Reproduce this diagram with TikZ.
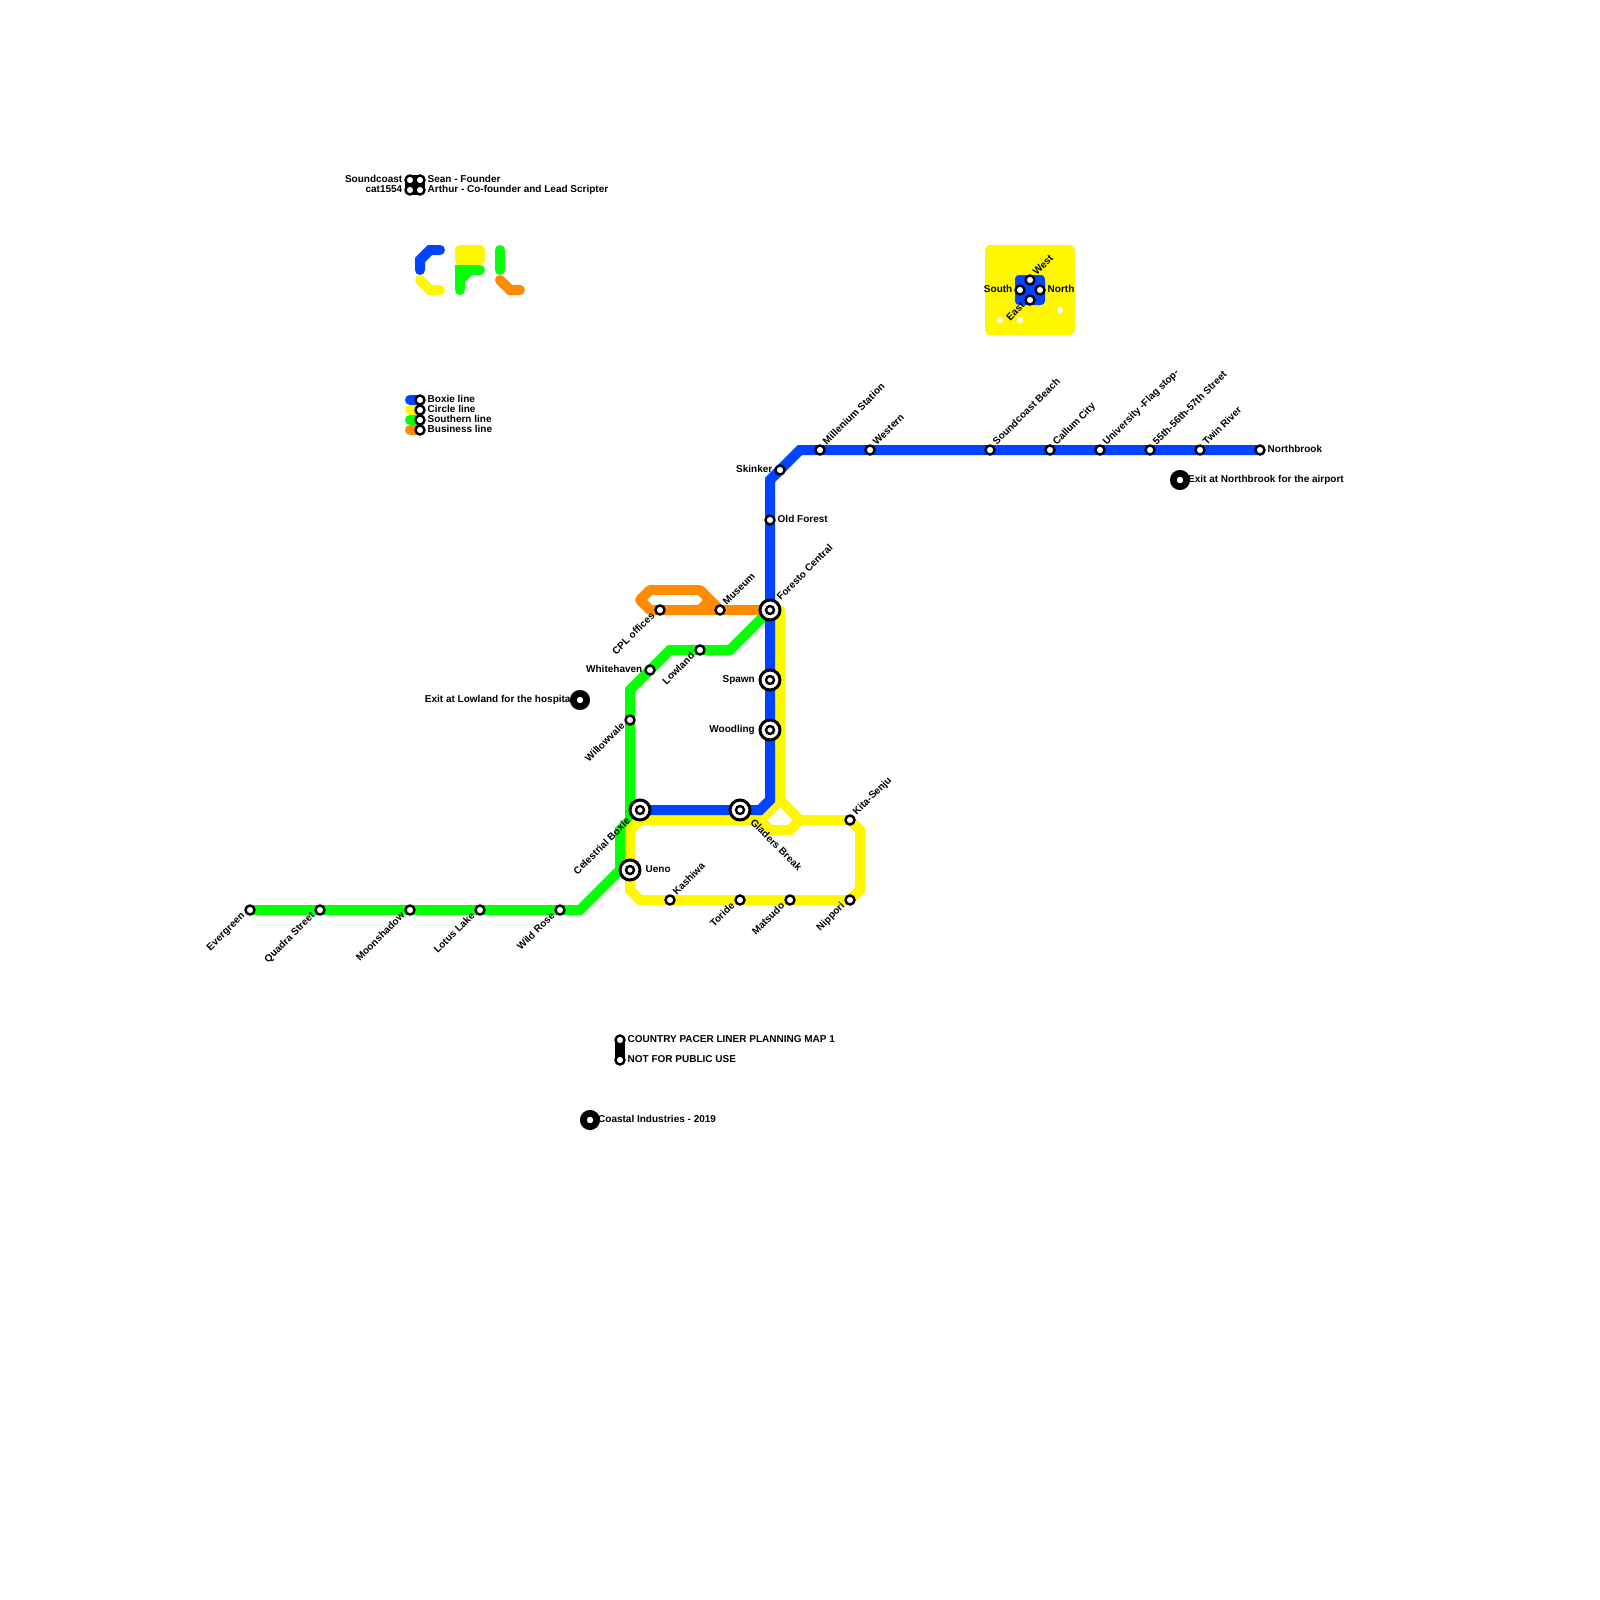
\documentclass[tikz,border=0pt]{standalone}
\usepackage{fontspec}
\setmainfont{Liberation Sans}
\usetikzlibrary{backgrounds}

\definecolor{boxieblue}{RGB}{0,68,255}
\definecolor{circleyellow}{RGB}{255,247,0}
\definecolor{southerngreen}{RGB}{8,255,8}
\definecolor{businessorange}{RGB}{255,140,0}

\tikzset{
  railline/.style={line width=10pt,line cap=round,line join=miter,miter limit=4},
  station/.style={circle,draw=black,fill=white,line width=2.4pt,minimum size=9pt,inner sep=0pt},
  hubring/.style={circle,draw=black,fill=white,line width=3pt,minimum size=20pt,inner sep=0pt},
  hubcore/.style={circle,draw=black,fill=white,line width=2.4pt,minimum size=8pt,inner sep=0pt},
  bigdot/.style={circle,draw=black,fill=white,line width=6.7pt,minimum size=13.3pt,inner sep=0pt},
  whitedot/.style={circle,fill=white,minimum size=6pt,inner sep=0pt},
  tag/.style={font=\bfseries\fontsize{10}{12}\selectfont,inner sep=0pt,text=black,text height=7.2pt,text depth=2pt},
  tagne/.style={tag,rotate=45,anchor=west},
  tagsw/.style={tag,rotate=45,anchor=east},
  tage/.style={tag,anchor=west},
  tagw/.style={tag,anchor=east}
}

\begin{document}
\begin{tikzpicture}[x=1pt,y=-1pt]

    \useasboundingbox (0,0) rectangle (1600,1600);

    % Key square
    \node[fill=circleyellow,rounded corners=5pt,minimum size=90pt,inner sep=0pt] (keybox) at (1030,290) {};
    \node[fill=boxieblue,rounded corners=4pt,minimum size=30pt,inner sep=0pt] (keycentre) at (1030,290) {};
    \node[whitedot] (dota) at (1000,320) {};
    \node[whitedot] (dotb) at (1020,320) {};
    \node[whitedot] (dotc) at (1060,310) {};

    % Interchanges
    \foreach \name/\px/\py in {foresto/770/610,spawn/770/680,woodling/770/730,celestrial/640/810,gladers/740/810,ueno/630/870}
    {
      \node[hubring] (\name ring) at (\px,\py) {};
      \node[hubcore] (\name) at (\px,\py) {};
    }

    % Stations
    \foreach \name/\px/\py in {northbrook/1260/450,twin/1200/450,fiftyfive/1150/450,university/1100/450,callum/1050/450,beach/990/450,western/870/450,
      millenium/820/450,skinker/780/470,oldforest/770/520,
      museum/720/610,cploffices/660/610,
      lowland/700/650,whitehaven/650/670,willowvale/630/720,
      wildrose/560/910,lotus/480/910,moonshadow/410/910,quadra/320/910,evergreen/250/910,
      kita/850/820,nippori/850/900,matsudo/790/900,toride/740/900,kashiwa/670/900,
      west/1030/280,south/1020/290,north/1040/290,east/1030/300,
      soundcoast/410/180,sean/420/180,cat/410/190,arthur/420/190,
      boxiekey/420/400,circlekey/420/410,southernkey/420/420,businesskey/420/430,
      planninga/620/1040,planningb/620/1060}
    \node[station] (\name) at (\px,\py) {};

    % Large dots
    \node[bigdot] (hospital) at (580,700) {};
    \node[bigdot] (airport) at (1180,480) {};
    \node[bigdot] (coastal) at (590,1120) {};

    % Bends
    \coordinate (boxiea) at (760,810);
    \coordinate (boxieb) at (770,800);
    \coordinate (boxiec) at (770,480);
    \coordinate (boxied) at (800,450);
    \coordinate (circlea) at (780,800);
    \coordinate (circleb) at (800,820);
    \coordinate (circlec) at (860,830);
    \coordinate (circled) at (860,890);
    \coordinate (circlee) at (640,900);
    \coordinate (circlef) at (630,890);
    \coordinate (circleg) at (630,830);
    \coordinate (circleh) at (640,820);
    \coordinate (circlei) at (760,820);
    \coordinate (circlej) at (770,830);
    \coordinate (circlek) at (790,830);
    \coordinate (circletop) at (780,610);
    \coordinate (southa) at (580,910);
    \coordinate (southb) at (620,870);
    \coordinate (southc) at (620,830);
    \coordinate (southd) at (630,820);
    \coordinate (southe) at (630,690);
    \coordinate (southf) at (670,650);
    \coordinate (southg) at (730,650);
    \coordinate (busa) at (650,610);
    \coordinate (busb) at (640,600);
    \coordinate (busc) at (650,590);
    \coordinate (busd) at (700,590);
    \coordinate (buse) at (710,600);
    \coordinate (busf) at (700,610);

    \begin{scope}[on background layer]
      % Logo
      \draw[railline,boxieblue] (440,250) -- (430,250) -- (420,260) -- (420,270);
      \draw[railline,circleyellow] (420,280) -- (430,290) -- (440,290);
      \draw[railline,circleyellow,line join=round] (460,250) -- (480,250) -- (480,260) -- (460,260) -- cycle;
      \draw[railline,southerngreen] (480,270) -- (460,270) -- (460,290);
      \draw[railline,southerngreen] (470,270) -- (460,280);
      \draw[railline,southerngreen] (500,250) -- (500,270);
      \draw[railline,businessorange] (500,280) -- (510,290) -- (520,290);

      % Legend
      \draw[railline,boxieblue] (410,400) -- (boxiekey.center);
      \draw[railline,circleyellow] (410,410) -- (circlekey.center);
      \draw[railline,southerngreen] (410,420) -- (southernkey.center);
      \draw[railline,businessorange] (410,430) -- (businesskey.center);

      % Black links
      \draw[railline,black,line join=round] (soundcoast.center) -- (sean.center) -- (arthur.center) -- (cat.center) -- cycle;
      \draw[railline,black] (planninga.center) -- (planningb.center);

      % Southern line
      \draw[railline,southerngreen] (evergreen.center) -- (southa) -- (southb) -- (southc) -- (southd) -- (southe) -- (southf) -- (southg) -- (foresto.center);

      % Circle line
      \draw[railline,circleyellow] (circlei) -- (circleh) -- (circleg) -- (circlef) -- (circlee) -- (nippori.center) -- (circled) -- (circlec) -- (kita.center) -- (circleb) -- (circlea) -- (circletop);
      \draw[railline,circleyellow] (circlea) -- (circlei) -- (circlej) -- (circlek) -- (circleb);

      % Boxie line
      \draw[railline,boxieblue] (celestrial.center) -- (boxiea) -- (boxieb) -- (boxiec) -- (boxied) -- (northbrook.center);

      % Business line
      \draw[railline,businessorange,line join=round] (foresto.center) -- (busa) -- (busb) -- (busc) -- (busd) -- (museum.center);
      \draw[railline,businessorange] (buse) -- (busf);
    \end{scope}

    % Labels up and right
    \foreach \name/\txt in {millenium/Millenium Station,western/Western,beach/Soundcoast Beach,callum/Callum City,university/University -Flag stop-,
      fiftyfive/55th-56th-57th Street,twin/Twin River,museum/Museum,kita/Kita-Senju,kashiwa/Kashiwa,west/West}
    \node[tagne] (\name text) at ([shift={(5,-6)}]\name.center) {\txt};
    \node[tagne] (forestotext) at ([shift={(9,-11)}]foresto.center) {Foresto Central};

    % Labels down and left
    \foreach \name/\txt in {cploffices/CPL offices,lowland/Lowland,willowvale/Willowvale,toride/Toride,matsudo/Matsudo,nippori/Nippori,
      evergreen/Evergreen,quadra/Quadra Street,moonshadow/Moonshadow,lotus/Lotus Lake,wildrose/Wild Rose,east/East}
    \node[tagsw] (\name text) at ([shift={(-6.5,4.5)}]\name.center) {\txt};
    \node[tagsw] (celestrialtext) at ([shift={(-11,10)}]celestrial.center) {Celestrial Boxie};
    \node[tag,rotate=-45,anchor=west] (gladerstext) at ([shift={(11.5,11.5)}]gladers.center) {Gladers Break};

    % Labels to the right
    \foreach \name/\txt in {northbrook/Northbrook,oldforest/Old Forest,north/North,sean/Sean - Founder,arthur/Arthur - Co-founder and Lead Scripter,
      boxiekey/Boxie line,circlekey/Circle line,southernkey/Southern line,businesskey/Business line,
      planninga/COUNTRY PACER LINER PLANNING MAP 1,planningb/NOT FOR PUBLIC USE}
    \node[tage] (\name text) at ([shift={(7.5,0)}]\name.center) {\txt};
    \node[tage] (uenotext) at ([shift={(15.5,0)}]ueno.center) {Ueno};
    \node[tage] (airporttext) at ([shift={(8,0)}]airport.center) {Exit at Northbrook for the airport};
    \node[tage] (coastaltext) at ([shift={(8,0)}]coastal.center) {Coastal Industries - 2019};

    % Labels to the left
    \foreach \name/\txt in {skinker/Skinker,whitehaven/Whitehaven,south/South,soundcoast/Soundcoast,cat/cat1554}
    \node[tagw] (\name text) at ([shift={(-7.5,0)}]\name.center) {\txt};
    \node[tagw] (spawntext) at ([shift={(-15,0)}]spawn.center) {Spawn};
    \node[tagw] (woodlingtext) at ([shift={(-15,0)}]woodling.center) {Woodling};
    \node[tagw] (hospitaltext) at ([shift={(-6.5,0)}]hospital.center) {Exit at Lowland for the hospital};

  \end{tikzpicture}
\end{document}
